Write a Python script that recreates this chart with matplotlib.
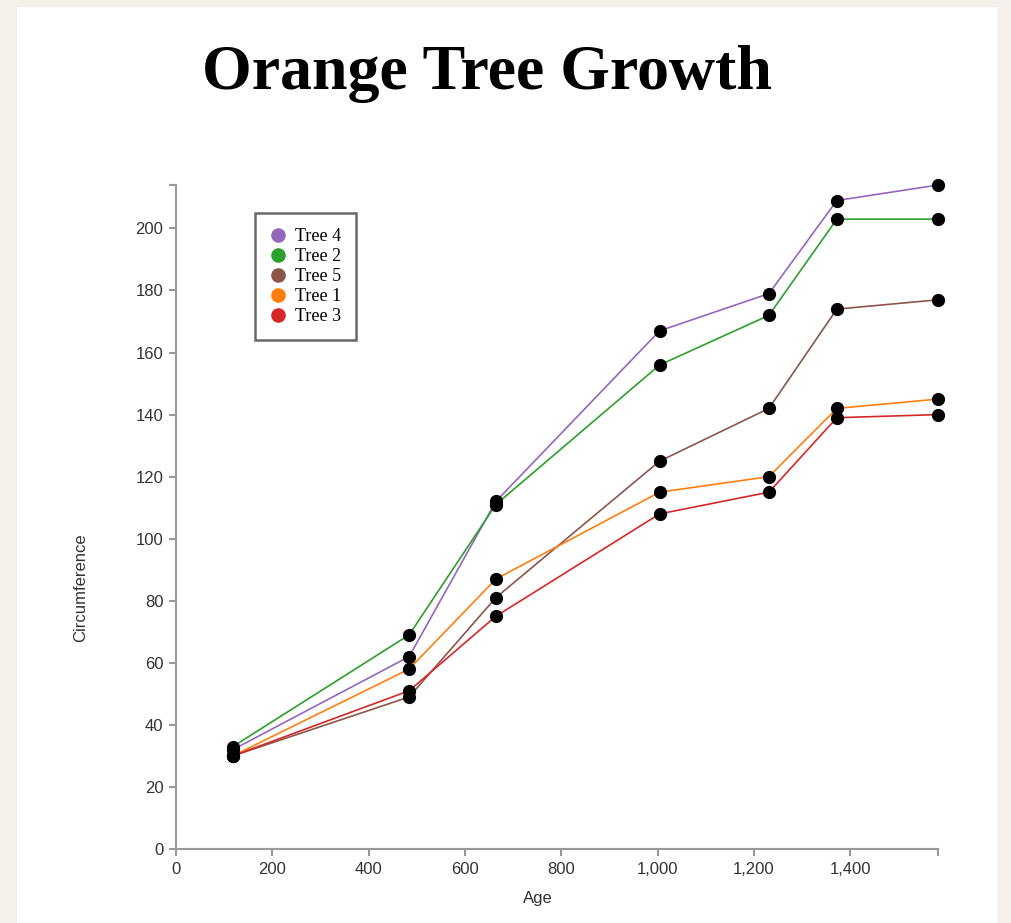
import matplotlib.pyplot as plt
from matplotlib.patches import Rectangle
from matplotlib.lines import Line2D
from matplotlib.ticker import FuncFormatter

age = [118, 484, 664, 1004, 1231, 1372, 1582]
tree1 = [30, 58, 87, 115, 120, 142, 145]
tree2 = [33, 69, 111, 156, 172, 203, 203]
tree3 = [30, 51, 75, 108, 115, 139, 140]
tree4 = [32, 62, 112, 167, 179, 209, 214]
tree5 = [30, 49, 81, 125, 142, 174, 177]

names = ['Tree 4', 'Tree 2', 'Tree 5', 'Tree 1', 'Tree 3']
series = [tree4, tree2, tree5, tree1, tree3]
colors = ['#9467bd', '#2ca02c', '#8c564b', '#ff7f0e', '#d62728']

xticks = [0, 200, 400, 600, 800, 1000, 1200, 1400]
yticks = [0, 20, 40, 60, 80, 100, 120, 140, 160, 180, 200]

fig = plt.figure(figsize=(10.11, 9.23), dpi=100)
fig.patch.set_facecolor('#f3f0ea')
fig.patches.append(Rectangle((17 / 1011, 0), 980 / 1011, 1 - 7 / 923,
                             transform=fig.transFigure, facecolor='white',
                             edgecolor='none', zorder=-10))

ax = fig.add_axes([176 / 1011, 1 - 849 / 923, 762 / 1011, 664 / 923])
ax.set_facecolor('none')

for vals, c in zip(series, colors):
    ax.plot(age, vals, color=c, lw=1.2, zorder=2, clip_on=False)
for vals in series:
    ax.plot(age, vals, 'o', color='black', ms=8.5, zorder=3, clip_on=False)

ax.set_xlim(0, 1582)
ax.set_ylim(0, 214)
ax.set_xticks(xticks + [1582])
ax.set_yticks(yticks + [214])
ax.xaxis.set_major_formatter(FuncFormatter(lambda v, p: '' if v == 1582 else f'{int(v):,}'))
ax.yaxis.set_major_formatter(FuncFormatter(lambda v, p: '' if v == 214 else f'{int(v)}'))

for s in ['top', 'right']:
    ax.spines[s].set_visible(False)
for s in ['left', 'bottom']:
    ax.spines[s].set_color('#999999')
    ax.spines[s].set_linewidth(1.5)
ax.tick_params(length=5, width=1.5, color='#999999', labelcolor='#333333',
               labelsize=12, labelfontfamily='Liberation Sans', pad=4)

ax.set_xlabel('Age', fontsize=12, family='Liberation Sans', color='#333333')
ax.set_ylabel('Circumference', fontsize=12, family='Liberation Sans', color='#333333')
ax.xaxis.set_label_coords((538 - 176) / 762, (849 - 891) / 664)
ax.yaxis.set_label_coords((88 - 176) / 762, (849 - 588) / 664)

fig.text(487 / 1011, 1 - 74 / 923, 'Orange Tree Growth', ha='center', va='center',
         fontsize=46, fontweight='bold', family='Liberation Serif')

handles = [Line2D([], [], marker='o', ls='none', color=c, ms=9.5) for c in colors]
leg = ax.legend(handles, names, loc='upper left',
                bbox_to_anchor=((255 - 176) / 762, (849 - 213) / 664),
                borderaxespad=0, frameon=True, fancybox=False,
                prop={'family': 'Liberation Serif', 'size': 13},
                labelspacing=0.16, handletextpad=0.55, handlelength=0.8,
                borderpad=0.85)
leg.get_frame().set_edgecolor('#444444')
leg.get_frame().set_linewidth(1.8)

fig.savefig('out.png', dpi=100)
